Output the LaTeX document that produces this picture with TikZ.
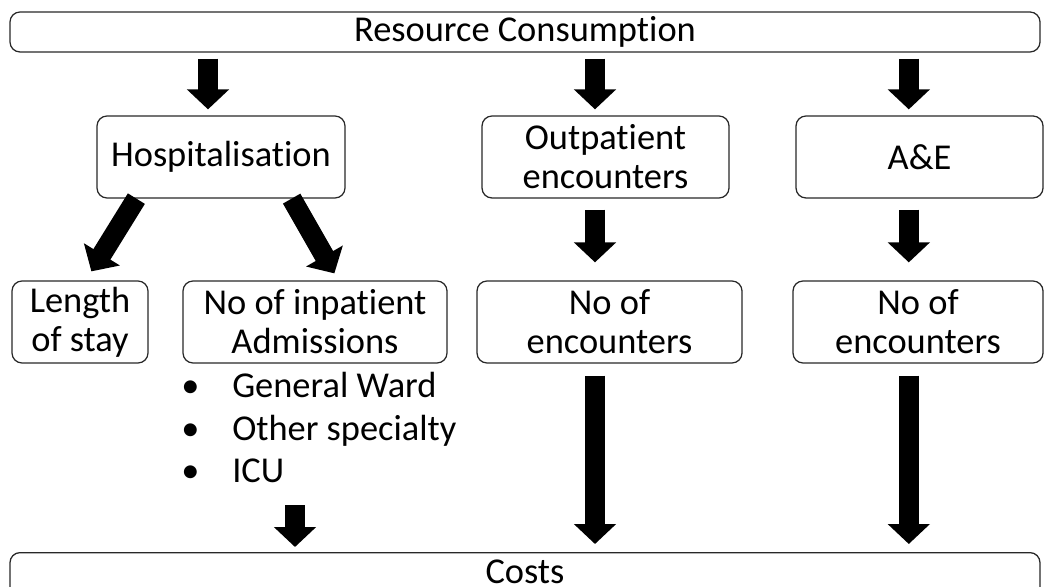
\documentclass[tikz,border=0pt]{standalone}
\usepackage{fontspec}
\setmainfont[Ligatures=NoCommon]{Carlito}
\usetikzlibrary{arrows.meta,positioning,calc}
\definecolor{frame}{RGB}{40,40,40}
\newcommand{\wbul}{\makebox[1.275cm][l]{\textbullet}}
\tikzset{
  box/.style={draw=frame,line width=0.9pt,rounded corners=0.25cm,fill=white,
    align=center,inner sep=0pt,font=\fontsize{25.9}{27.7}\selectfont},
  bar/.style={box,minimum width=25.75cm},
  blk/.style={line width=0.5cm,-{Triangle[width=1.03cm,length=0.5cm]}},
  wards/.style={align=left,inner sep=0pt,font=\fontsize{25.9}{30.2}\selectfont},
}
\begin{document}
\begin{tikzpicture}
  \useasboundingbox (0,0) rectangle (26.15,-14.675);
  % top and bottom bars
  \node[bar,minimum height=1.0cm] (rc) at (13.125,-0.8) {Resource Consumption};
  \node[bar,anchor=north,text height=0.76cm,text depth=0.54cm] (costs) at (13.125,-13.8) {Costs};
  % second row
  \node[box,minimum width=6.2cm,minimum height=2.05cm] (hosp) at (5.525,-3.925) {Hospitalisation};
  \node[box,minimum width=6.175cm,minimum height=2.05cm] (out) at (15.1375,-3.925) {Outpatient\\encounters};
  \node[box,minimum width=6.175cm,minimum height=2.05cm] (ae) at (22.9875,-3.925) {A\&E};
  % third row
  \node[box,minimum width=3.4cm,minimum height=2.05cm] (los) at (2.0,-8.05) {Length\\of stay};
  \node[box,minimum width=6.6cm,minimum height=2.05cm] (adm) at (7.875,-8.05) {No of inpatient\\Admissions};
  \node[box,minimum width=6.625cm,minimum height=2.05cm] (enc1) at (15.2375,-8.05) {No of\\encounters};
  \node[box,minimum width=6.25cm,minimum height=2.05cm] (enc2) at (22.95,-8.05) {No of\\encounters};
  \node[wards,anchor=north west] (wards) at (4.525,-9.3)
    {\wbul General Ward\\\wbul Other specialty\\\wbul ICU};
  % arrow columns
  \coordinate (c1) at (5.2,0);
  \coordinate (c2) at (14.875,0);
  \coordinate (c3) at (22.72,0);
  \coordinate (c4) at (7.375,-12.625);
  \draw[blk,shorten <=0.15cm,shorten >=0.15cm] (rc.south -| c1) -- (hosp.north -| c1);
  \draw[blk,shorten <=0.15cm,shorten >=0.15cm] (rc.south -| c2) -- (out.north -| c2);
  \draw[blk,shorten <=0.15cm,shorten >=0.15cm] (rc.south -| c3) -- (ae.north -| c3);
  \draw[blk] ([xshift=1cm]hosp.south west) -- ([xshift=2cm,yshift=0.225cm]los.north west);
  \draw[blk] ([xshift=-1.35cm]hosp.south east) -- ([xshift=3.8cm,yshift=0.175cm]adm.north west);
  \draw[blk,shorten <=0.275cm,shorten >=0.45cm] (out.south -| c2) -- (enc1.north -| c2);
  \draw[blk,shorten <=0.275cm,shorten >=0.45cm] (ae.south -| c3) -- (enc2.north -| c3);
  \draw[blk,shorten <=0.3cm,shorten >=0.2cm] (enc1.south -| c2) -- (costs.north -| c2);
  \draw[blk,shorten <=0.3cm,shorten >=0.2cm] (enc2.south -| c3) -- (costs.north -| c3);
  \draw[blk,shorten >=0.125cm] (c4) -- (costs.north -| c4);
\end{tikzpicture}
\end{document}
